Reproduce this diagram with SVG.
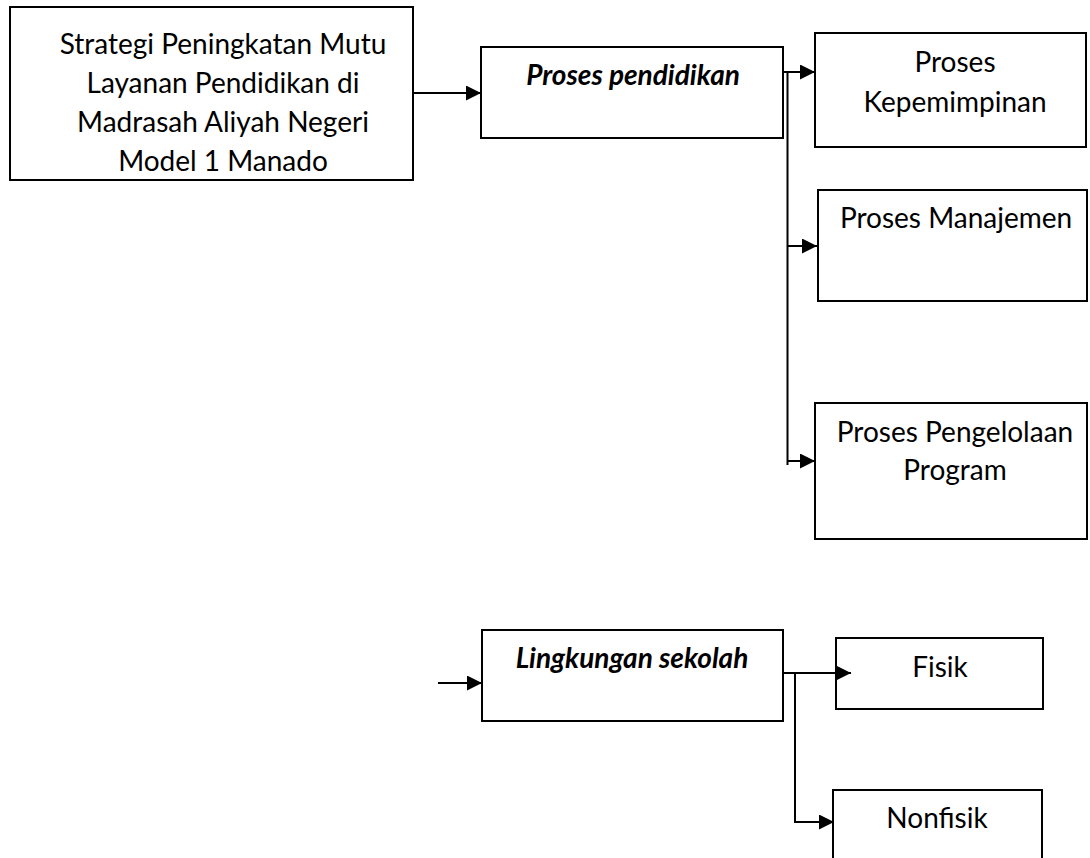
<svg xmlns="http://www.w3.org/2000/svg" width="1090" height="858" viewBox="0 0 1090 858">
<style>
.box{fill:#fff;stroke:#000;stroke-width:2}
.t{font-family:Lato,"Open Sans","Liberation Sans",sans-serif;font-size:28px;fill:#000;text-anchor:middle}
.b{font-weight:bold;font-style:italic}
.c{fill:none;stroke:#000;stroke-width:2}
</style>
<defs>
<marker id="ah" viewBox="0 0 15 15" refX="15" refY="7.5" markerWidth="15" markerHeight="15" markerUnits="userSpaceOnUse" orient="auto">
<path d="M0,0 L15,7.5 L0,15 Z" fill="#000"/>
</marker>
</defs>
<rect width="1090" height="858" fill="#fff"/>
<g id="n-strategi">
<rect class="box" x="10" y="7" width="403" height="173"/>
<text class="t" x="223" y="54">Strategi Peningkatan Mutu</text>
<text class="t" x="223" y="93">Layanan Pendidikan di</text>
<text class="t" x="223" y="132">Madrasah Aliyah Negeri</text>
<text class="t" x="223" y="171">Model 1 Manado</text>
</g>
<g id="n-proses-pendidikan">
<rect class="box" x="481" y="47" width="302" height="91"/>
<text class="t b" x="633" y="85">Proses pendidikan</text>
</g>
<g id="n-kepemimpinan">
<rect class="box" x="815" y="33" width="271" height="114"/>
<text class="t" x="955" y="72">Proses</text>
<text class="t" x="955" y="112">Kepemimpinan</text>
</g>
<g id="n-manajemen">
<rect class="box" x="818" y="190" width="269" height="111"/>
<text class="t" x="956" y="228">Proses Manajemen</text>
</g>
<g id="n-pengelolaan">
<rect class="box" x="815" y="403" width="272" height="136"/>
<text class="t" x="955" y="442">Proses Pengelolaan</text>
<text class="t" x="955" y="480">Program</text>
</g>
<g id="n-lingkungan">
<rect class="box" x="482" y="630" width="301" height="91"/>
<text class="t b" x="632" y="668">Lingkungan sekolah</text>
</g>
<g id="n-fisik">
<rect class="box" x="836" y="638" width="207" height="71"/>
<text class="t" x="940" y="677">Fisik</text>
</g>
<g id="n-nonfisik">
<rect class="box" x="833" y="790" width="209" height="80"/>
<text class="t" x="937" y="828">Nonfisik</text>
</g>
<g id="connectors">
<line class="c" x1="413" y1="93" x2="481" y2="93" marker-end="url(#ah)"/>
<line class="c" x1="783" y1="72" x2="815" y2="72" marker-end="url(#ah)"/>
<line class="c" x1="787.5" y1="72" x2="787.5" y2="465"/>
<line class="c" x1="787.5" y1="246" x2="817" y2="246" marker-end="url(#ah)"/>
<line class="c" x1="787.5" y1="461" x2="815" y2="461" marker-end="url(#ah)"/>
<line class="c" x1="438" y1="683" x2="482" y2="683" marker-end="url(#ah)"/>
<line class="c" x1="783" y1="673" x2="851" y2="673" marker-end="url(#ah)"/>
<line class="c" x1="795" y1="673" x2="795" y2="823"/>
<line class="c" x1="794" y1="822" x2="834" y2="822" marker-end="url(#ah)"/>
</g>
</svg>
